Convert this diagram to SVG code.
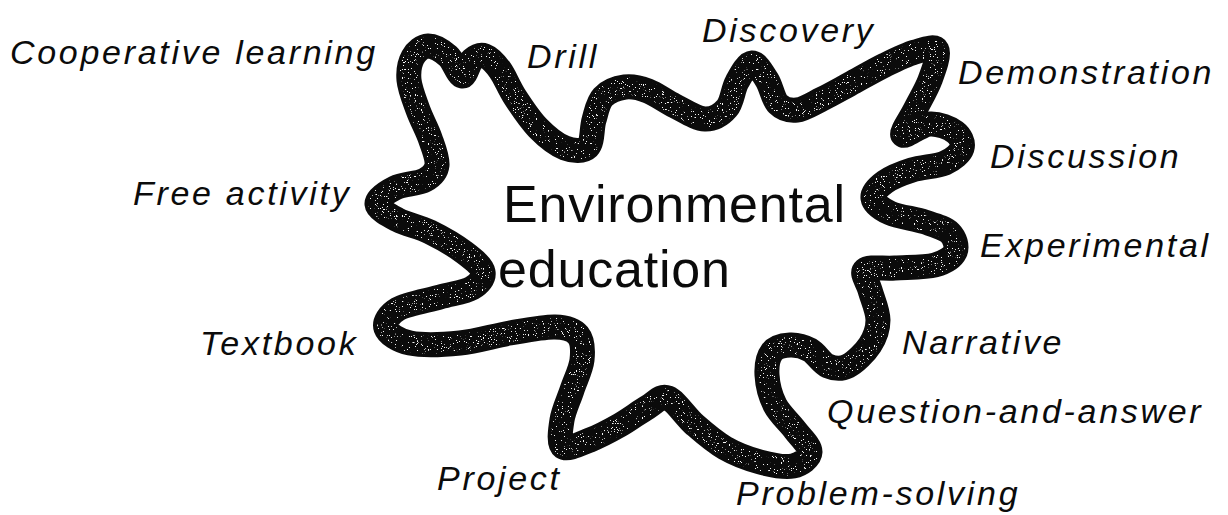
<svg xmlns="http://www.w3.org/2000/svg" width="1228" height="515" viewBox="0 0 1228 515">
  <defs>
    <style>
      .method { font-family: "Liberation Sans", Arial, sans-serif; font-style: italic; font-size: 34px; letter-spacing: 2.7px; fill: #0b0b0b; }
      .title { font-family: "Liberation Sans", Arial, sans-serif; font-size: 52px; letter-spacing: 0.8px; fill: #0b0b0b; }
      .rim { fill: none; stroke: #0b0b0b; stroke-width: 25; stroke-linejoin: round; }
      .grain { fill: none; stroke: #ffffff; stroke-width: 18; stroke-linejoin: round; }
    </style>
    <!-- random light flecks, kept inside the core of the thick outline -->
    <filter id="flecks" filterUnits="userSpaceOnUse" x="0" y="0" width="1228" height="515">
      <feTurbulence type="fractalNoise" baseFrequency="0.85" numOctaves="2" seed="7" result="noise"/>
      <feColorMatrix in="noise" type="matrix" values="0 0 0 0 0.92  0 0 0 0 0.92  0 0 0 0 0.92  22 0 0 0 -14.6" result="dots"/>
      <feComposite in="dots" in2="SourceGraphic" operator="in"/>
    </filter>
    <path id="outline" d="M428,46 C433.8,45.8 442.3,51 448,56 S458,75.3 462,76 S468.2,63.3 472,60 S480.3,54.3 485,56 S495,63.2 500,70 S508.7,87.3 515,97 S529.7,119.5 538,128 S556.7,144.8 565,148 S583.2,151.7 588,147 S591.5,128.3 594,120 S597.8,102.5 603,97 S617.5,88 625,87 S639.7,87.8 648,91 S665.5,101.3 675,106 S696.3,118.7 705,119 S721.7,114.2 727,108 S732.8,89.5 737,82 S747,63.3 752,63 S762.7,73.2 767,80 S773,99 778,104 S789.7,110.8 797,110 S813.2,103.3 822,99 S839.5,89.7 850,84 S874.2,70.3 885,65 S906.3,54.5 915,52 S934.5,45.3 937,50 S933.7,70 930,80 S919.5,100.8 915,110 S900.5,132.7 903,135 S921.3,124.5 930,124 S949.7,128 955,132 S963.7,142.8 962,148 S953.3,159.3 945,163 S922,166.8 912,170 S891.5,177.3 885,182 S872.2,192.8 873,198 S881.3,209 890,213 S915,218.7 925,222 S945,228 950,233 S957.5,246.7 955,252 S945,262.3 935,265 S906.7,267.2 895,268 S869.2,266.3 865,270 S867.8,281.7 870,290 S878,310.8 878,320 S875,337.3 870,345 S855,362.5 848,366 S834.3,368.7 828,366 S816.3,353.5 810,350 S796.3,344.7 790,345 S775.8,347 772,352 S766.5,366.2 767,375 S770.3,395.8 775,405 S789.2,422.2 795,430 S810.3,446 810,452 S801.3,464.3 793,466 S771.3,465 760,462 S735.8,454.2 725,448 S704.5,433.3 695,425 S675.8,401 668,398 S656,402.5 648,407 S629.7,419.5 620,425 S599.5,436.3 590,440 S567.7,450.3 563,447 S560.5,429.5 562,420 S568.7,400 572,390 S581,369.2 582,360 S582.5,340.5 578,335 S566.3,327.3 555,327 S525.8,330.3 510,333 S476.7,341.3 460,343 S422.3,345.5 410,343 S388,333.7 386,328 S389,314.2 398,309 S427.7,300.5 440,297 S464.8,292.2 472,288 S484.2,277.8 483,272 S473.8,259.7 465,253 S441.2,237.5 430,232 S406.8,224.7 398,220 S377.5,209.3 377,204 S387,192 395,188 S418,183.8 425,180 S436.2,172 437,165 S433.2,147.2 430,138 S421.5,119.7 418,110 S409.8,88.8 409,80 S409.8,62.7 413,57 S422.2,46.2 428,46 Z"/>
  </defs>

  <rect width="1228" height="515" fill="#ffffff"/>

  <!-- the wavy outline enclosing the central topic -->
  <g id="blob">
    <use href="#outline" class="rim"/>
    <use href="#outline" class="grain" filter="url(#flecks)"/>
  </g>

  <g id="topic">
    <text class="title" x="503" y="222">Environmental</text>
    <text class="title" x="498" y="287">education</text>
  </g>

  <!-- teaching methods placed around the outline -->
  <g id="cooperative-learning"><text class="method" x="10" y="64">Cooperative learning</text></g>
  <g id="drill"><text class="method" x="527" y="68">Drill</text></g>
  <g id="discovery"><text class="method" x="702" y="42">Discovery</text></g>
  <g id="demonstration"><text class="method" x="958" y="84">Demonstration</text></g>
  <g id="discussion"><text class="method" x="990" y="168">Discussion</text></g>
  <g id="experimental"><text class="method" x="980" y="257">Experimental</text></g>
  <g id="narrative"><text class="method" x="902" y="354">Narrative</text></g>
  <g id="question-and-answer"><text class="method" x="827" y="423">Question-and-answer</text></g>
  <g id="problem-solving"><text class="method" x="736" y="505">Problem-solving</text></g>
  <g id="project"><text class="method" x="437" y="490">Project</text></g>
  <g id="textbook"><text class="method" x="200" y="355">Textbook</text></g>
  <g id="free-activity"><text class="method" x="133" y="205">Free activity</text></g>
</svg>
